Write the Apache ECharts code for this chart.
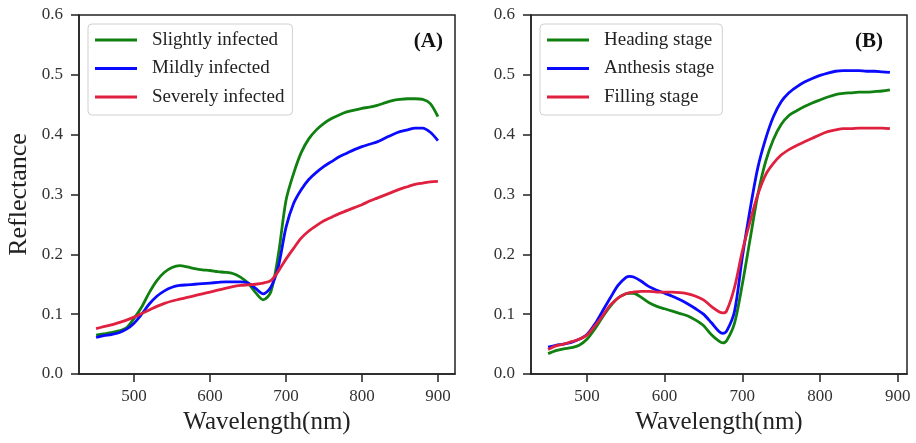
<!DOCTYPE html>
<html>
<head>
<meta charset="utf-8">
<script src="https://cdn.jsdelivr.net/npm/echarts@6/dist/echarts.min.js"></script>
<style>
html,body{margin:0;padding:0;background:#fff;}
#chart{width:916px;height:443px;}
</style>
</head>
<body>
<div id="chart"></div>
<script>
// Panel A wavelengths (nm)
const wavelengthsA = [450,460,470,480,490,500,510,520,530,540,550,560,570,580,590,600,610,620,630,640,650,660,670,680,690,700,710,720,730,740,750,760,770,780,790,800,810,820,830,840,850,860,870,880,890,900];
const slightlyInfected = [0.065,0.067,0.069,0.072,0.077,0.093,0.112,0.136,0.156,0.170,0.178,0.181,0.179,0.176,0.174,0.173,0.171,0.170,0.168,0.162,0.152,0.136,0.124,0.137,0.200,0.290,0.335,0.370,0.393,0.408,0.419,0.427,0.433,0.438,0.441,0.444,0.446,0.449,0.453,0.457,0.459,0.460,0.460,0.459,0.452,0.430];
const mildlyInfected = [0.061,0.064,0.066,0.069,0.075,0.085,0.100,0.117,0.130,0.139,0.145,0.148,0.149,0.150,0.151,0.152,0.153,0.154,0.154,0.154,0.152,0.143,0.134,0.145,0.180,0.245,0.285,0.308,0.325,0.337,0.347,0.355,0.363,0.369,0.375,0.380,0.384,0.388,0.394,0.400,0.405,0.408,0.411,0.411,0.404,0.390];
const severelyInfected = [0.076,0.079,0.082,0.086,0.090,0.095,0.101,0.107,0.113,0.118,0.122,0.125,0.128,0.131,0.134,0.137,0.140,0.143,0.146,0.148,0.149,0.150,0.152,0.156,0.172,0.192,0.210,0.227,0.239,0.248,0.256,0.262,0.268,0.273,0.278,0.283,0.289,0.294,0.299,0.304,0.309,0.313,0.317,0.319,0.321,0.322];

// Panel B wavelengths (nm)
const wavelengthsB = [450,460,470,480,490,500,510,520,530,540,550,555,560,570,580,590,600,610,620,630,640,650,660,670,675,680,690,700,710,720,730,740,750,760,770,780,790,800,810,820,830,840,850,860,870,880,890];
const headingStage = [0.034,0.039,0.042,0.044,0.048,0.058,0.075,0.095,0.113,0.127,0.134,0.135,0.135,0.128,0.119,0.113,0.109,0.105,0.101,0.097,0.090,0.081,0.066,0.055,0.052,0.056,0.085,0.150,0.225,0.300,0.355,0.392,0.417,0.432,0.440,0.447,0.453,0.458,0.463,0.467,0.469,0.470,0.471,0.471,0.472,0.473,0.475];
const anthesisStage = [0.045,0.048,0.050,0.053,0.058,0.066,0.083,0.105,0.127,0.148,0.161,0.163,0.162,0.155,0.146,0.140,0.135,0.130,0.124,0.117,0.109,0.100,0.086,0.071,0.068,0.072,0.105,0.195,0.275,0.345,0.393,0.430,0.455,0.470,0.480,0.488,0.494,0.499,0.503,0.506,0.507,0.507,0.507,0.506,0.506,0.505,0.504];
const fillingStage = [0.041,0.047,0.050,0.054,0.058,0.065,0.080,0.097,0.115,0.127,0.134,0.136,0.137,0.138,0.138,0.137,0.137,0.137,0.136,0.134,0.130,0.124,0.113,0.104,0.102,0.106,0.145,0.205,0.255,0.300,0.333,0.352,0.366,0.375,0.382,0.388,0.394,0.400,0.405,0.408,0.410,0.410,0.411,0.411,0.411,0.411,0.410];

const xTicks = [500,600,700,800,900];
const yTicks = [0.0,0.1,0.2,0.3,0.4,0.5,0.6];
const legendA = ['Slightly infected','Mildly infected','Severely infected'];
const legendB = ['Heading stage','Anthesis stage','Filling stage'];

const GREEN = '#108010', BLUE = '#0a0aff', RED = '#e0203f';
const FONT = '"Liberation Serif","Times New Roman",serif';
const AX = '#222';

function pairs(xs, ys){ return xs.map((x,i)=>[x, ys[i]]); }

function xAxisCfg(gi, min, max){
  return {
    type:'value', gridIndex:gi, min:min, max:max,
    name:'Wavelength(nm)', nameLocation:'middle', nameGap:30,
    nameTextStyle:{fontFamily:FONT, fontSize:25, color:'#222'},
    axisLine:{show:true, lineStyle:{color:AX, width:1.5}},
    axisTick:{show:true, inside:false, length:8, customValues:xTicks, lineStyle:{color:AX, width:1.5}},
    axisLabel:{show:true, margin:14, customValues:xTicks, fontFamily:FONT, fontSize:17, color:'#333'},
    splitLine:{show:false}
  };
}
function yAxisCfg(gi, withName){
  return {
    type:'value', gridIndex:gi, min:0, max:0.6, interval:0.1,
    name: withName ? 'Reflectance' : '', nameLocation:'middle', nameGap:47,
    nameTextStyle:{fontFamily:FONT, fontSize:26, color:'#222'},
    axisLine:{show:true, lineStyle:{color:AX, width:1.5}},
    axisTick:{show:true, inside:false, length:8, lineStyle:{color:AX, width:1.5}},
    axisLabel:{show:true, margin:16, fontFamily:FONT, fontSize:17, color:'#333', formatter:v=>v.toFixed(1)},
    splitLine:{show:false}
  };
}
function lineSeries(name, xi, data, color){
  return {type:'line', name:name, xAxisIndex:xi, yAxisIndex:xi, data:data, showSymbol:false, symbol:'none', smooth:0.3,
    lineStyle:{color:color, width:2.8}, itemStyle:{color:color}, animation:false};
}
function legendCfg(names, left){
  return {
    data:names, orient:'vertical', left:left, top:24,
    padding:[6,8,8,7], itemGap:8.5, itemWidth:42, itemHeight:3, icon:'rect',
    backgroundColor:'#fff', borderColor:'#d0d0d0', borderWidth:1, borderRadius:4,
    textStyle:{fontFamily:FONT, fontSize:19, lineHeight:20, color:'#222', padding:[0,0,0,10]},
    selectedMode:false
  };
}

const chart = echarts.init(document.getElementById('chart'), null, {renderer:'canvas'});
chart.setOption({
  backgroundColor:'#fff',
  animation:false,
  grid:[
    {left:79, top:15, width:376, height:359, show:true, borderColor:AX, borderWidth:1.5, backgroundColor:'transparent'},
    {left:531, top:15, width:376, height:359, show:true, borderColor:AX, borderWidth:1.5, backgroundColor:'transparent'}
  ],
  xAxis:[xAxisCfg(0, 427.5, 922.5), xAxisCfg(1, 428, 912)],
  yAxis:[yAxisCfg(0, true), yAxisCfg(1, false)],
  legend:[legendCfg(legendA, 88), legendCfg(legendB, 540)],
  graphic:[
    {type:'text', x:443, y:42, style:{text:'(A)', fontFamily:FONT, fontSize:21, fontWeight:'bold', fill:'#111', align:'right', verticalAlign:'middle'}},
    {type:'text', x:883, y:42, style:{text:'(B)', fontFamily:FONT, fontSize:21, fontWeight:'bold', fill:'#111', align:'right', verticalAlign:'middle'}}
  ],
  series:[
    lineSeries(legendA[0], 0, pairs(wavelengthsA, slightlyInfected), GREEN),
    lineSeries(legendA[1], 0, pairs(wavelengthsA, mildlyInfected), BLUE),
    lineSeries(legendA[2], 0, pairs(wavelengthsA, severelyInfected), RED),
    lineSeries(legendB[0], 1, pairs(wavelengthsB, headingStage), GREEN),
    lineSeries(legendB[1], 1, pairs(wavelengthsB, anthesisStage), BLUE),
    lineSeries(legendB[2], 1, pairs(wavelengthsB, fillingStage), RED)
  ]
});
</script>
</body>
</html>
